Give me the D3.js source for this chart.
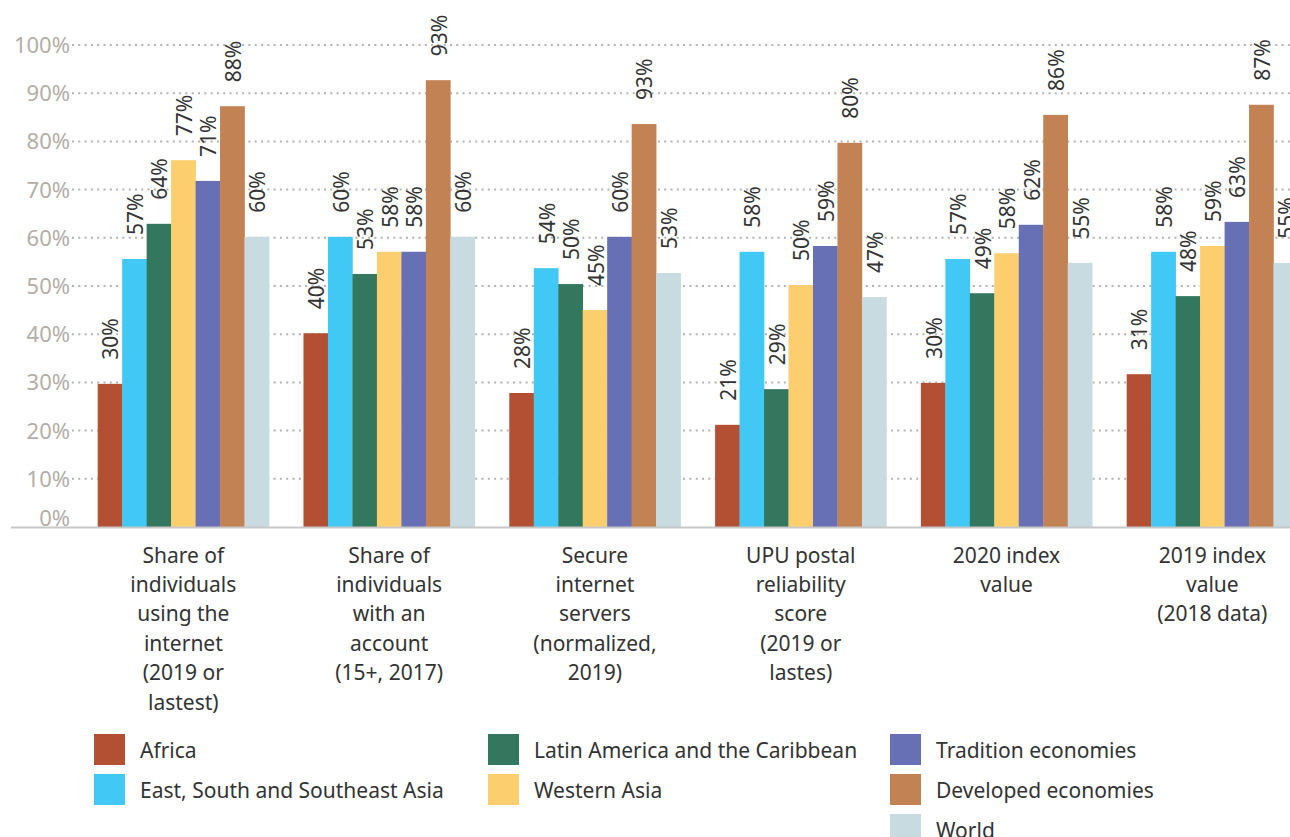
<!DOCTYPE html>
<html>
<head>
<meta charset="utf-8">
<script src="https://cdn.jsdelivr.net/npm/d3@7"></script>
<style>
  html, body { margin: 0; padding: 0; background: #fff; }
  svg { display: block; font-family: "Noto Sans", sans-serif; }
</style>
</head>
<body>
<svg id="chart" width="1290" height="837"></svg>
<script>
// ---- DATA ----
const categories = [
  ["Share of", "individuals", "using the", "internet", "(2019 or", "lastest)"],
  ["Share of", "individuals", "with an", "account", "(15+, 2017)"],
  ["Secure", "internet", "servers", "(normalized,", "2019)"],
  ["UPU postal", "reliability", "score", "(2019 or", "lastes)"],
  ["2020 index", "value"],
  ["2019 index", "value", "(2018 data)"]
];
const seriesNames = ["Africa", "East, South and Southeast Asia", "Latin America and the Caribbean",
  "Western Asia", "Tradition economies", "Developed economies", "World"];
const seriesColors = ["#b35033", "#41c8f4", "#33775e", "#fdce6d", "#6870b5", "#c28254", "#c8dbe0"];

// bar heights (as drawn)
const africa    = [29.7, 40.2, 27.8, 21.2, 29.9, 31.7];
const eastAsia  = [55.6, 60.2, 53.7, 57.1, 55.6, 57.1];
const latinAm   = [62.9, 52.5, 50.4, 28.6, 48.5, 47.9];
const westAsia  = [76.1, 57.1, 45.0, 50.2, 56.8, 58.3];
const tradition = [71.8, 57.1, 60.2, 58.3, 62.7, 63.3];
const developed = [87.3, 92.7, 83.6, 79.7, 85.5, 87.6];
const world     = [60.2, 60.2, 52.7, 47.7, 54.8, 54.8];
const seriesValues = [africa, eastAsia, latinAm, westAsia, tradition, developed, world];

// printed value labels
const africaLbl    = ["30%", "40%", "28%", "21%", "30%", "31%"];
const eastAsiaLbl  = ["57%", "60%", "54%", "58%", "57%", "58%"];
const latinAmLbl   = ["64%", "53%", "50%", "29%", "49%", "48%"];
const westAsiaLbl  = ["77%", "58%", "45%", "50%", "58%", "59%"];
const traditionLbl = ["71%", "58%", "60%", "59%", "62%", "63%"];
const developedLbl = ["88%", "93%", "93%", "80%", "86%", "87%"];
const worldLbl     = ["60%", "60%", "53%", "47%", "55%", "55%"];
const seriesLabels = [africaLbl, eastAsiaLbl, latinAmLbl, westAsiaLbl, traditionLbl, developedLbl, worldLbl];

const yTicks = [0, 10, 20, 30, 40, 50, 60, 70, 80, 90, 100];
const yTickLabels = ["0%", "10%", "20%", "30%", "40%", "50%", "60%", "70%", "80%", "90%", "100%"];

// legend layout: columns of series indices
const legendColumns = [[0, 1], [2, 3], [4, 5, 6]];

// ---- CHART ----
const svg = d3.select("#chart");
const catIdx = d3.range(categories.length);

const y = d3.scaleLinear().domain([0, 100]).range([527, 45]);
const x0 = d3.scaleBand().domain(catIdx).range([80.45, 1315.25])
  .paddingInner(0.1676).paddingOuter(0.0838);
const x1 = d3.scaleBand().domain(d3.range(seriesNames.length)).range([0, x0.bandwidth()]).padding(0);

// grid lines
svg.append("g").selectAll("line")
  .data(yTicks.filter(d => d > 0))
  .join("line")
  .attr("x1", 72).attr("x2", 1290)
  .attr("y1", d => y(d)).attr("y2", d => y(d))
  .attr("stroke", "#b3b3b3")
  .attr("stroke-width", 2)
  .attr("stroke-dasharray", "2 4.3");

// y tick labels
svg.append("g").selectAll("text")
  .data(yTicks)
  .join("text")
  .attr("x", 70)
  .attr("y", d => d === 0 ? y(d) - 9 : y(d))
  .attr("dy", "0.36em")
  .attr("text-anchor", "end")
  .attr("font-size", 22)
  .attr("fill", "#b3aea8")
  .text((d, i) => yTickLabels[i]);

// bars
const groups = svg.append("g").selectAll("g")
  .data(catIdx)
  .join("g")
  .attr("transform", c => `translate(${x0(c)},0)`);

groups.selectAll("rect")
  .data(c => seriesValues.map((arr, s) => ({ s, v: arr[c] })))
  .join("rect")
  .attr("x", d => x1(d.s))
  .attr("width", x1.bandwidth() + 0.3)
  .attr("y", d => y(d.v))
  .attr("height", d => y(0) - y(d.v))
  .attr("fill", d => seriesColors[d.s]);

// value labels (rotated)
groups.selectAll("text")
  .data(c => seriesValues.map((arr, s) => ({ s, v: arr[c], t: seriesLabels[s][c] })))
  .join("text")
  .attr("transform", d => `translate(${x1(d.s) + x1.bandwidth() / 2 + 1},${y(d.v) - 24}) rotate(-90)`)
  .attr("dy", "0.36em")
  .attr("text-anchor", "start")
  .attr("font-size", 21)
  .attr("fill", "#333")
  .text(d => d.t);

// baseline
svg.append("line")
  .attr("x1", 11).attr("x2", 1290)
  .attr("y1", y(0) + 0.5).attr("y2", y(0) + 0.5)
  .attr("stroke", "#c8c8c8").attr("stroke-width", 2);

// category labels
const catG = svg.append("g").selectAll("text")
  .data(catIdx)
  .join("text")
  .attr("text-anchor", "middle")
  .attr("font-size", 21)
  .attr("fill", "#333");
catG.selectAll("tspan")
  .data(c => categories[c].map(line => ({ c, line })))
  .join("tspan")
  .attr("x", d => x0(d.c) + x0.bandwidth() / 2)
  .attr("y", (d, i) => 555 + i * 29.4)
  .attr("dy", "0.36em")
  .text(d => d.line);

// legend
const legendX = [94, 488, 890];
legendColumns.forEach((col, ci) => {
  col.forEach((s, ri) => {
    const g = svg.append("g").attr("transform", `translate(${legendX[ci]},${734 + ri * 40})`);
    g.append("rect").attr("width", 31).attr("height", 31).attr("fill", seriesColors[s]);
    g.append("text").attr("x", 46).attr("y", 16).attr("dy", "0.36em")
      .attr("font-size", 21).attr("fill", "#333").text(seriesNames[s]);
  });
});
</script>
</body>
</html>
